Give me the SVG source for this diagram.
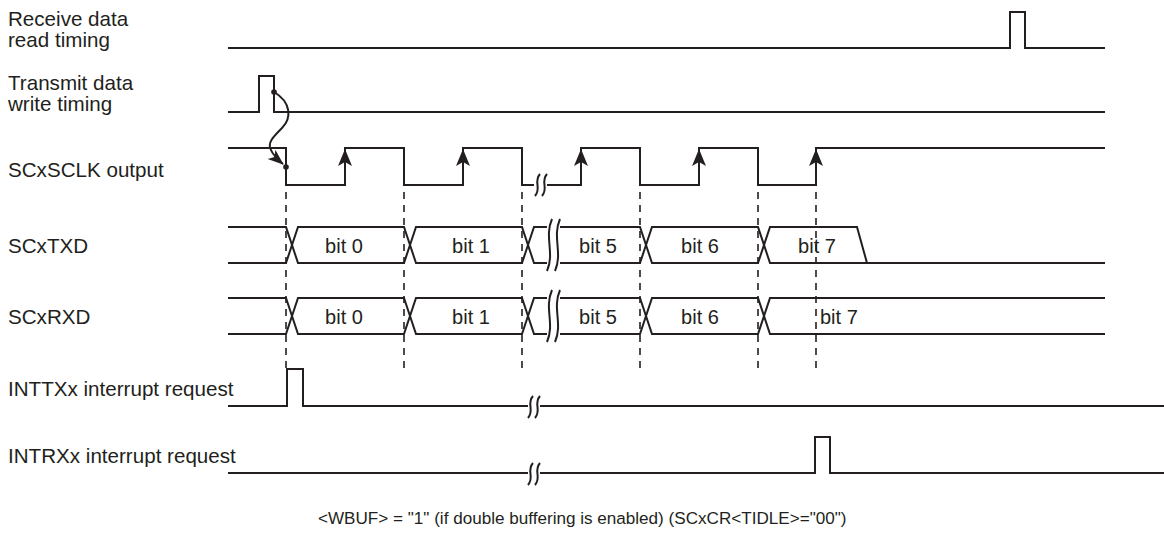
<svg xmlns="http://www.w3.org/2000/svg" width="1164" height="535" viewBox="0 0 1164 535">
<style>
.lbl{font-family:"Liberation Sans",Arial,sans-serif;font-size:20.6px;fill:#231f20}
.bit{font-family:"Liberation Sans",Arial,sans-serif;font-size:20px;fill:#231f20;text-anchor:middle}
.bit7{font-family:"Liberation Sans",Arial,sans-serif;font-size:20px;fill:#231f20}
.note{font-family:"Liberation Sans",Arial,sans-serif;font-size:17.1px;fill:#231f20}
.w{fill:none;stroke:#231f20;stroke-width:2;stroke-linejoin:miter}
.brk{fill:none;stroke:#231f20;stroke-width:2}
.dash{fill:none;stroke:#231f20;stroke-width:1.6;stroke-dasharray:7 6}
.ah{fill:#231f20}
</style>
<defs>
<marker id="arr" markerUnits="userSpaceOnUse" markerWidth="18" markerHeight="14" refX="15" refY="6" orient="auto">
<path d="M0,0 L16,6 L0,12 L4,6 z" fill="#231f20"/>
</marker>
<path id="sb" d="M3,0 C-4,8 5,14 -2,22"/>
<path id="tb" d="M3,0 C-5,18 6,34 -2,52"/>
</defs>
<rect width="1164" height="535" fill="#fff"/>

<g id="rx-read">
<text class="lbl" x="8" y="26">Receive data</text>
<text class="lbl" x="8" y="47">read timing</text>
<path class="w" d="M228,48 H1010 V12 H1025 V48 H1105"/>
</g>

<g id="tx-write">
<text class="lbl" x="8" y="90">Transmit data</text>
<text class="lbl" x="8" y="111">write timing</text>
<path class="w" d="M228,112 H259 V76 H274 V112 H1105"/>
</g>

<g id="sclk">
<text class="lbl" x="8" y="177">SCxSCLK output</text>
<path class="w" d="M228,148 H286 V185 H345 V148 H404 V185 H463 V148 H522 V185 H534 M547,185 H581 V148 H640 V185 H699 V148 H758 V185 H816 V148 H1105"/>
<polygon class="ah" points="345,149 338,166 345,162 352,166"/>
<polygon class="ah" points="463,149 456,166 463,162 470,166"/>
<polygon class="ah" points="581,149 574,166 581,162 588,166"/>
<polygon class="ah" points="699,149 692,166 699,162 706,166"/>
<polygon class="ah" points="816,149 809,166 816,162 823,166"/>
<use href="#sb" class="brk" x="537" y="174"/>
<use href="#sb" class="brk" x="544" y="174"/>
</g>

<g id="txd">
<text class="lbl" x="8" y="253">SCxTXD</text>
<path class="w" d="M228,227 H286 L298,263 H404 L416,227 H522 L534,263 H547 M228,263 H286 L298,227 H404 L416,263 H522 L534,227 H547"/>
<path class="w" d="M560,263 H640 L652,227 H758 L770,263 H1105 M560,227 H640 L652,263 H758 L770,227 H857 L867,263"/>
<use href="#tb" class="brk" x="549" y="219"/>
<use href="#tb" class="brk" x="557" y="219"/>
<text class="bit" x="344" y="253">bit 0</text>
<text class="bit" x="471" y="253">bit 1</text>
<text class="bit" x="598" y="253">bit 5</text>
<text class="bit" x="700" y="253">bit 6</text>
<text class="bit" x="817" y="253">bit 7</text>
</g>

<g id="rxd">
<text class="lbl" x="8" y="324">SCxRXD</text>
<path class="w" d="M228,298 H286 L298,334 H404 L416,298 H522 L534,334 H547 M228,334 H286 L298,298 H404 L416,334 H522 L534,298 H547"/>
<path class="w" d="M560,334 H640 L652,298 H758 L770,334 H1105 M560,298 H640 L652,334 H758 L770,298 H1105"/>
<use href="#tb" class="brk" x="549" y="290"/>
<use href="#tb" class="brk" x="557" y="290"/>
<text class="bit" x="344" y="324">bit 0</text>
<text class="bit" x="471" y="324">bit 1</text>
<text class="bit" x="598" y="324">bit 5</text>
<text class="bit" x="700" y="324">bit 6</text>
<text class="bit7" x="820" y="324">bit 7</text>
</g>

<g id="inttx">
<text class="lbl" x="8" y="396">INTTXx interrupt request</text>
<path class="w" d="M228,406 H287 V369 H303 V406 H528 M540,406 H1164"/>
<use href="#sb" class="brk" x="530" y="396"/>
<use href="#sb" class="brk" x="537" y="396"/>
</g>

<g id="intrx">
<text class="lbl" x="8" y="463">INTRXx interrupt request</text>
<path class="w" d="M228,473 H528 M540,473 H815 V437 H830 V473 H1164"/>
<use href="#sb" class="brk" x="530" y="463"/>
<use href="#sb" class="brk" x="537" y="463"/>
</g>

<g id="connectors">
<path class="dash" d="M286,192 V368 M404,192 V368 M522,192 V368 M640,192 V368 M758,192 V368 M816,192 V368"/>
<path class="w" d="M274,92 C291,102 292,118 282,128 C273,137 267,143 271,150 C273,155 277,159 283,164" marker-end="url(#arr)"/>
<circle cx="274" cy="92" r="2.8" fill="#231f20"/>
<circle cx="286" cy="167" r="2.8" fill="#231f20"/>
</g>

<text class="note" x="318" y="524">&lt;WBUF&gt; = "1" (if double buffering is enabled) (SCxCR&lt;TIDLE&gt;="00")</text>
</svg>
